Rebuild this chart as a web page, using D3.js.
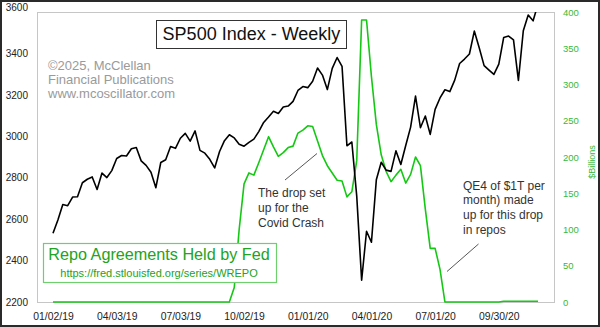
<!DOCTYPE html>
<html>
<head>
<meta charset="utf-8">
<script src="https://cdn.jsdelivr.net/npm/d3@7"></script>
<style>
  html, body { margin: 0; padding: 0; background: #fff; }
  svg { display: block; }
  text { font-family: "Liberation Sans", Arial, sans-serif; }
</style>
</head>
<body>
<svg id="chart" width="600" height="327"></svg>
<script>
// ---- Data ----
const startDate = "01/02/19";   // first weekly observation (Wednesday)
const sp500 = [
  2531.94, 2596.26, 2670.71, 2664.76, 2706.53, 2707.88, 2775.60, 2792.67, 2803.69, 2743.07,
  2822.48, 2800.71, 2834.40, 2892.74, 2907.41, 2905.03, 2939.88, 2945.64, 2881.40, 2859.53,
  2826.06, 2752.06, 2873.34, 2886.98, 2950.46, 2941.76, 2990.41, 3013.77, 2976.61, 3025.86,
  2932.05, 2918.65, 2888.68, 2847.11, 2926.46, 2978.71, 3007.39, 2992.07, 2961.79, 2952.01,
  2970.27, 2986.20, 3022.55, 3066.91, 3093.08, 3120.46, 3110.29, 3140.98, 3145.91, 3168.80,
  3221.22, 3240.02, 3234.85, 3265.35, 3329.62, 3295.47, 3225.52, 3327.71, 3380.16, 3337.75,
  2954.22, 2972.37, 2711.02, 2304.92, 2541.47, 2488.65, 2789.82, 2874.56, 2836.74, 2830.71,
  2929.80, 2863.70, 2955.45, 3044.31, 3193.93, 3041.31, 3097.74, 3009.05, 3130.01, 3185.04,
  3224.73, 3215.63, 3271.12, 3351.28, 3372.85, 3397.16, 3508.01, 3426.96, 3340.97, 3319.47,
  3298.46, 3348.44, 3477.13, 3483.81, 3465.39, 3269.96, 3509.44, 3585.15, 3557.54, 3638.35
];
const repo = [
  0, 0, 0, 0, 0, 0, 0, 0, 0, 0,
  0, 0, 0, 0, 0, 0, 0, 0, 0, 0,
  0, 0, 0, 0, 0, 0, 0, 0, 0, 0,
  0, 0, 0, 0, 0, 0, 0, 20, 100, 163,
  178, 175, 192, 210, 228, 214, 201, 206, 213, 215,
  233, 237, 243, 242, 222, 202, 188, 178, 168, 167,
  145, 152, 195, 389, 389, 311, 245, 203, 180, 166,
  175, 183, 164, 176, 200, 188, 128, 74, 74, 45,
  0, 0, 0, 0, 0, 0, 0, 0, 0, 0,
  0, 0, 1, 1, 1, 1, 1, 1, 1, 1
];
const xTickLabels = ["01/02/19", "04/03/19", "07/03/19", "10/02/19", "01/01/20", "04/01/20", "07/01/20", "09/30/20"];
const leftTicks = [2200, 2400, 2600, 2800, 3000, 3200, 3400, 3600];
const rightTicks = [0, 50, 100, 150, 200, 250, 300, 350, 400];
const titleText = "SP500 Index - Weekly";
const creditLines = ["\u00A92025, McClellan", "Financial Publications", "www.mcoscillator.com"];
const note1 = ["The drop set", "up for the", "Covid Crash"];
const note2 = ["QE4 of $1T per", "month) made", "up for this drop", "in repos"];
const legendTitle = "Repo Agreements Held by Fed";
const legendUrl = "https://fred.stlouisfed.org/series/WREPO";
const rightAxisLabel = "$Billions";

// ---- Build ----
const parse = d3.timeParse("%m/%d/%y");
const fmt = d3.timeFormat("%m/%d/%y");
const d0 = parse(startDate);
const dates = sp500.map((_, i) => d3.timeDay.offset(d0, 7 * i));

const svg = d3.select("#chart");
const W = 600, H = 327;
const plot = { left: 37, top: 12, right: 554, bottom: 302 };

const x = d3.scaleTime().domain([dates[0], dates[dates.length - 1]]).range([53, 538]);
const yL = d3.scaleLinear().domain([2200, 3600]).range([plot.bottom, plot.top]);
const yR = d3.scaleLinear().domain([0, 400]).range([plot.bottom, plot.top]);

const GREEN_LINE = "#14c814";
const GREEN_TEXT = "#22a322";
const GREEN_AXIS = "#38b838";

// outer border
svg.append("rect").attr("x", 1).attr("y", 1).attr("width", W - 2).attr("height", H - 2)
  .attr("fill", "#fff").attr("stroke", "#2a2a2a").attr("stroke-width", 2);

// plot frame
svg.append("rect")
  .attr("x", plot.left + 0.5).attr("y", plot.top + 0.5)
  .attr("width", plot.right - plot.left).attr("height", plot.bottom - plot.top)
  .attr("fill", "none").attr("stroke", "#c6c6c6").attr("stroke-width", 1);

svg.append("defs").append("clipPath").attr("id", "clip")
  .append("rect").attr("x", plot.left).attr("y", plot.top)
  .attr("width", plot.right - plot.left).attr("height", plot.bottom - plot.top + 2);

// axes
const axL = svg.append("g").attr("transform", `translate(${plot.left},0)`)
  .call(d3.axisLeft(yL).tickValues(leftTicks).tickSize(0).tickPadding(9).tickFormat(d3.format("d")));
axL.select(".domain").remove();
axL.selectAll("text").attr("font-size", 10).attr("fill", "#222")
  .attr("font-family", "'Liberation Sans', Arial, sans-serif")
  .attr("dy", d => d === 3600 ? "-0.2em" : "0.32em");

const axR = svg.append("g").attr("transform", `translate(${plot.right},0)`)
  .call(d3.axisRight(yR).tickValues(rightTicks).tickSize(0).tickPadding(9).tickFormat(d3.format("d")));
axR.select(".domain").remove();
axR.selectAll("text").attr("font-size", 9.5).attr("fill", GREEN_AXIS)
  .attr("font-family", "'Liberation Sans Narrow', 'Arial Narrow', 'Liberation Sans', sans-serif");

const axB = svg.append("g").attr("transform", `translate(0,${plot.bottom})`)
  .call(d3.axisBottom(x).tickValues(xTickLabels.map(parse)).tickSize(0).tickPadding(11).tickFormat(fmt));
axB.select(".domain").remove();
axB.selectAll("text").attr("font-size", 10.4).attr("fill", "#222")
  .attr("font-family", "'Liberation Sans', Arial, sans-serif");

// right axis label
svg.append("text")
  .attr("transform", `translate(595,162) rotate(-90)`)
  .attr("text-anchor", "middle")
  .attr("font-size", 9)
  .attr("font-family", "'Liberation Sans Narrow', 'Arial Narrow', 'Liberation Sans', sans-serif")
  .attr("fill", GREEN_AXIS)
  .text(rightAxisLabel);

// credit text
svg.append("g").selectAll("text").data(creditLines).join("text")
  .attr("x", 48).attr("y", (d, i) => 70 + i * 14)
  .attr("font-size", 13).attr("fill", "#9a9a9a").text(d => d);

// lines
const g = svg.append("g").attr("clip-path", "url(#clip)");
g.append("path").datum(repo)
  .attr("fill", "none").attr("stroke", GREEN_LINE).attr("stroke-width", 1.6)
  .attr("stroke-linejoin", "round")
  .attr("d", d3.line().x((d, i) => x(dates[i])).y(d => yR(d)));
g.append("path").datum(sp500)
  .attr("fill", "none").attr("stroke", "#000").attr("stroke-width", 1.6)
  .attr("stroke-linejoin", "round")
  .attr("d", d3.line().x((d, i) => x(dates[i])).y(d => yL(d)));

// title box
svg.append("rect").attr("x", 156.5).attr("y", 20.5).attr("width", 190).attr("height", 28)
  .attr("fill", "#fff").attr("stroke", "#333").attr("stroke-width", 1);
svg.append("text").attr("x", 251.5).attr("y", 40).attr("text-anchor", "middle")
  .attr("font-size", 18).attr("fill", "#111").text(titleText);

// annotations
svg.append("line").attr("x1", 285).attr("y1", 180).attr("x2", 317).attr("y2", 153.5)
  .attr("stroke", "#444").attr("stroke-width", 0.9);
svg.append("g").selectAll("text").data(note1).join("text")
  .attr("x", 258).attr("y", (d, i) => 197 + i * 15)
  .attr("font-size", 12).attr("fill", "#333").text(d => d);

svg.append("line").attr("x1", 447).attr("y1", 271.5).attr("x2", 478.5).attr("y2", 244)
  .attr("stroke", "#444").attr("stroke-width", 0.9);
svg.append("g").selectAll("text").data(note2).join("text")
  .attr("x", 463).attr("y", (d, i) => 189.5 + i * 14.8)
  .attr("font-size", 12).attr("fill", "#333").text(d => d);

// legend box
svg.append("rect").attr("x", 43.5).attr("y", 243.5).attr("width", 233).attr("height", 39)
  .attr("fill", "#fff").attr("stroke", "#6fcf6f").attr("stroke-width", 1.2);
svg.append("text").attr("x", 159).attr("y", 260).attr("text-anchor", "middle")
  .attr("font-size", 16.2).attr("fill", GREEN_TEXT).text(legendTitle);
svg.append("text").attr("x", 159).attr("y", 277).attr("text-anchor", "middle")
  .attr("font-size", 11).attr("fill", GREEN_TEXT).text(legendUrl);
</script>
</body>
</html>
